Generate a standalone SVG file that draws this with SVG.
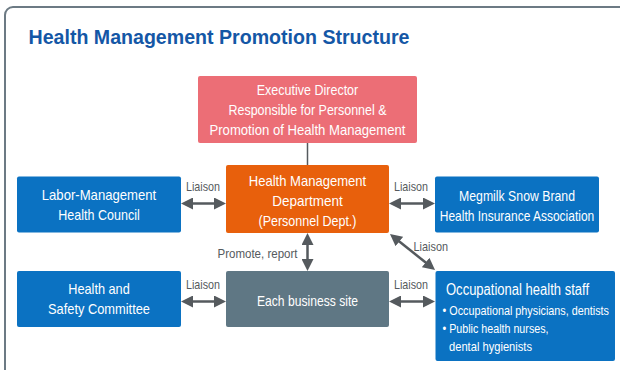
<svg xmlns="http://www.w3.org/2000/svg" width="620" height="370" viewBox="0 0 620 370">
  <defs>
    <marker id="head" viewBox="0 0 12 12" markerWidth="12" markerHeight="12" markerUnits="userSpaceOnUse" refX="4" refY="6" orient="auto-start-reverse">
      <path d="M0,0 L12,6 L0,12 z" fill="#555a5e"/>
    </marker>
    <style>
      text { font-family: "Liberation Sans", Arial, sans-serif; }
      .box text { fill: #ffffff; font-size: 15px; text-anchor: middle; }
      .blue { fill: #0b72c2; }
      .lbl { fill: #555a5e; font-size: 13px; }
      .arrow { stroke: #555a5e; stroke-width: 2.5; fill: none; marker-start: url(#head); marker-end: url(#head); }
      .title { fill: #1457a6; font-size: 20px; font-weight: bold; }
      .occ text { text-anchor: start; }
    </style>
  </defs>

  <rect width="620" height="370" fill="#ffffff"/>
  <!-- outer panel frame -->
  <rect x="5" y="7" width="660" height="420" rx="8" fill="none" stroke="#6c7a84" stroke-width="2"/>

  <text class="title" x="28.5" y="44" textLength="381" lengthAdjust="spacingAndGlyphs">Health Management Promotion Structure</text>

  <!-- connectors -->
  <g id="connectors">
    <line x1="307.5" y1="143" x2="307.5" y2="165" stroke="#555a5e" stroke-width="1.5"/>
    <line class="arrow" x1="189" y1="203.5" x2="218" y2="203.5"/>
    <line class="arrow" x1="397" y1="203.5" x2="427" y2="203.5"/>
    <line class="arrow" x1="189" y1="301.5" x2="218" y2="301.5"/>
    <line class="arrow" x1="397" y1="301.5" x2="427" y2="301.5"/>
    <line class="arrow" x1="307.5" y1="241" x2="307.5" y2="263"/>
    <line class="arrow" x1="396.2" y1="239" x2="428.8" y2="265"/>
    <text class="lbl" x="186" y="190.5" textLength="34" lengthAdjust="spacingAndGlyphs">Liaison</text>
    <text class="lbl" x="394" y="190.5" textLength="34" lengthAdjust="spacingAndGlyphs">Liaison</text>
    <text class="lbl" x="186" y="288.5" textLength="34" lengthAdjust="spacingAndGlyphs">Liaison</text>
    <text class="lbl" x="394" y="288.5" textLength="34" lengthAdjust="spacingAndGlyphs">Liaison</text>
    <text class="lbl" x="413.5" y="251" textLength="34.5" lengthAdjust="spacingAndGlyphs">Liaison</text>
    <text class="lbl" x="217.5" y="257.5" textLength="80" lengthAdjust="spacingAndGlyphs">Promote, report</text>
  </g>

  <g id="executive-director" class="box">
    <rect x="198" y="76" width="219" height="67" rx="2" fill="#ec6e76"/>
    <text x="307.5" y="95" textLength="101.5" lengthAdjust="spacingAndGlyphs">Executive Director</text>
    <text x="307.5" y="115" textLength="158" lengthAdjust="spacingAndGlyphs">Responsible for Personnel &amp;</text>
    <text x="307.5" y="135" textLength="196" lengthAdjust="spacingAndGlyphs">Promotion of Health Management</text>
  </g>

  <g id="health-management-dept" class="box">
    <rect x="226" y="165" width="163" height="68" rx="2" fill="#e8600c"/>
    <text x="307.5" y="186" textLength="117.5" lengthAdjust="spacingAndGlyphs">Health Management</text>
    <text x="307.5" y="206" textLength="70.5" lengthAdjust="spacingAndGlyphs">Department</text>
    <text x="307.5" y="226" textLength="98" lengthAdjust="spacingAndGlyphs">(Personnel Dept.)</text>
  </g>

  <g id="labor-management-council" class="box">
    <rect class="blue" x="17" y="176.5" width="164" height="56" rx="2"/>
    <text x="99" y="200" textLength="114.5" lengthAdjust="spacingAndGlyphs">Labor-Management</text>
    <text x="99" y="220" textLength="81.5" lengthAdjust="spacingAndGlyphs">Health Council</text>
  </g>

  <g id="health-insurance-association" class="box">
    <rect class="blue" x="435" y="176.5" width="164" height="56" rx="2"/>
    <text x="517" y="200.5" textLength="116" lengthAdjust="spacingAndGlyphs">Megmilk Snow Brand</text>
    <text x="517" y="220.5" textLength="154.5" lengthAdjust="spacingAndGlyphs">Health Insurance Association</text>
  </g>

  <g id="health-safety-committee" class="box">
    <rect class="blue" x="17" y="271" width="164" height="56" rx="2"/>
    <text x="99" y="293.5" textLength="61.5" lengthAdjust="spacingAndGlyphs">Health and</text>
    <text x="99" y="314" textLength="102" lengthAdjust="spacingAndGlyphs">Safety Committee</text>
  </g>

  <g id="business-site" class="box">
    <rect x="226" y="271" width="163" height="56" rx="2" fill="#5f7784"/>
    <text x="307.5" y="305.5" textLength="101" lengthAdjust="spacingAndGlyphs">Each business site</text>
  </g>

  <g id="occupational-health-staff" class="box occ">
    <rect class="blue" x="435.5" y="271" width="179.5" height="90" rx="2"/>
    <text x="446" y="295" font-size="16" style="font-size:16px" textLength="143" lengthAdjust="spacingAndGlyphs">Occupational health staff</text>
    <text x="442.5" y="314.5" style="font-size:13px" textLength="166.5" lengthAdjust="spacingAndGlyphs">• Occupational physicians, dentists</text>
    <text x="442.5" y="332.5" style="font-size:13px" textLength="106" lengthAdjust="spacingAndGlyphs">• Public health nurses,</text>
    <text x="449" y="350.5" style="font-size:13px" textLength="83" lengthAdjust="spacingAndGlyphs">dental hygienists</text>
  </g>
</svg>
